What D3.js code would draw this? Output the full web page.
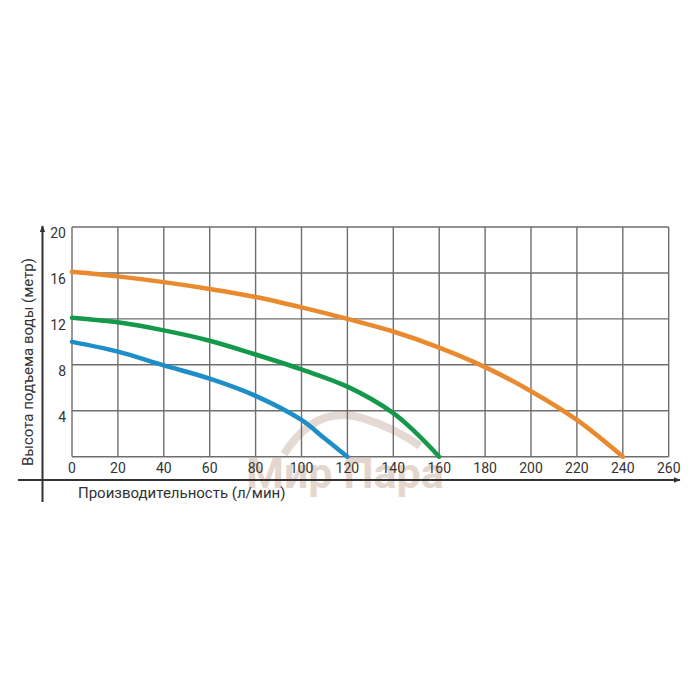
<!DOCTYPE html>
<html>
<head>
<meta charset="utf-8">
<script src="https://cdn.jsdelivr.net/npm/d3@7"></script>
<style>
  body { margin: 0; background: #fff; }
  svg text { font-family: "Liberation Sans Narrow", "Roboto", sans-serif; fill: #333; }
</style>
</head>
<body>
<div id="chart"></div>
<script>
// Données (débit en л/мин, hauteur en m)
var flowOrange = [0, 20, 40, 60, 80, 100, 120, 140, 160, 180, 200, 220, 240];
var headOrange = [16.1, 15.7, 15.2, 14.6, 13.9, 13.0, 12.0, 10.9, 9.5, 7.8, 5.7, 3.2, 0];

var flowGreen = [0, 20, 40, 60, 80, 100, 120, 140, 150, 160];
var headGreen = [12.1, 11.7, 11.0, 10.1, 8.9, 7.6, 6.1, 3.8, 2.05, 0];

var flowBlue = [0, 20, 40, 60, 80, 100, 110, 120];
var headBlue = [10.0, 9.15, 7.95, 6.8, 5.3, 3.2, 1.6, 0];

var xTicks = [0, 20, 40, 60, 80, 100, 120, 140, 160, 180, 200, 220, 240, 260];
var yTicks = [4, 8, 12, 16, 20];

var xTitle = "Производительность (л/мин)";
var yTitle = "Высота подъема воды (метр)";

var width = 700, height = 700;

var svg = d3.select("#chart").append("svg")
    .attr("width", width)
    .attr("height", height);

var x = d3.scaleLinear().domain([0, 260]).range([72, 668.7]);
var y = d3.scaleLinear().domain([0, 20]).range([456.7, 227]);

// filigrane
var wm = svg.append("g").attr("opacity", 0.35);
wm.append("path")
    .attr("d", "M284,454 Q316,404 362,418 Q395,428 420,446")
    .attr("fill", "none")
    .attr("stroke", "#b49684")
    .attr("stroke-width", 8);
wm.append("text")
    .attr("x", 345).attr("y", 488)
    .attr("text-anchor", "middle")
    .style("font-family", "Roboto, sans-serif")
    .style("font-weight", "bold")
    .style("font-size", "43px")
    .style("fill", "#b48c6e")
    .text("Мир Пара");

// grille
var grid = svg.append("g").attr("stroke", "#6e6e6e").attr("stroke-width", 1.4);
grid.selectAll("line.v").data(xTicks).enter().append("line")
    .attr("x1", d => x(d)).attr("x2", d => x(d))
    .attr("y1", y(0)).attr("y2", y(20));
grid.selectAll("line.h").data([0].concat(yTicks)).enter().append("line")
    .attr("x1", x(0)).attr("x2", x(260))
    .attr("y1", d => y(d)).attr("y2", d => y(d));

// étiquettes des graduations
svg.selectAll("text.xt").data(xTicks).enter().append("text")
    .attr("x", d => x(d)).attr("y", 473)
    .attr("text-anchor", "middle")
    .style("font-size", "14px")
    .text(d => d);

svg.selectAll("text.yt").data(yTicks).enter().append("text")
    .attr("x", 66).attr("y", d => y(d) + 11)
    .attr("text-anchor", "end")
    .style("font-size", "14px")
    .text(d => d);

// axes avec flèches
svg.append("defs").append("marker")
    .attr("id", "arrow")
    .attr("viewBox", "0 0 10 10")
    .attr("refX", 9).attr("refY", 5)
    .attr("markerWidth", 7).attr("markerHeight", 7)
    .attr("markerUnits", "userSpaceOnUse")
    .attr("orient", "auto")
    .append("path").attr("d", "M0,1 L10,5 L0,9 Z").attr("fill", "#333");

svg.append("line")
    .attr("x1", 18).attr("x2", 680).attr("y1", 480).attr("y2", 480)
    .attr("stroke", "#333").attr("stroke-width", 2)
    .attr("marker-end", "url(#arrow)");
svg.append("line")
    .attr("x1", 42.5).attr("x2", 42.5).attr("y1", 502).attr("y2", 226)
    .attr("stroke", "#333").attr("stroke-width", 2)
    .attr("marker-end", "url(#arrow)");

// titres
svg.append("text")
    .attr("x", 78).attr("y", 498)
    .style("font-size", "15px")
    .text(xTitle);
svg.append("text")
    .attr("transform", "translate(33,362) rotate(-90)")
    .attr("text-anchor", "middle")
    .style("font-size", "15px")
    .text(yTitle);

// courbes
var line = d3.line()
    .x(d => x(d[0])).y(d => y(d[1]))
    .curve(d3.curveCatmullRom.alpha(0.5));

var series = [
    { flow: flowBlue, head: headBlue, color: "#1e8ec8" },
    { flow: flowGreen, head: headGreen, color: "#14994a" },
    { flow: flowOrange, head: headOrange, color: "#ea8a2e" }
];

svg.selectAll("path.curve").data(series).enter().append("path")
    .attr("class", "curve")
    .attr("d", s => line(d3.zip(s.flow, s.head)))
    .attr("fill", "none")
    .attr("stroke", s => s.color)
    .attr("stroke-width", 4.5)
    .attr("stroke-linecap", "round");
</script>
</body>
</html>
